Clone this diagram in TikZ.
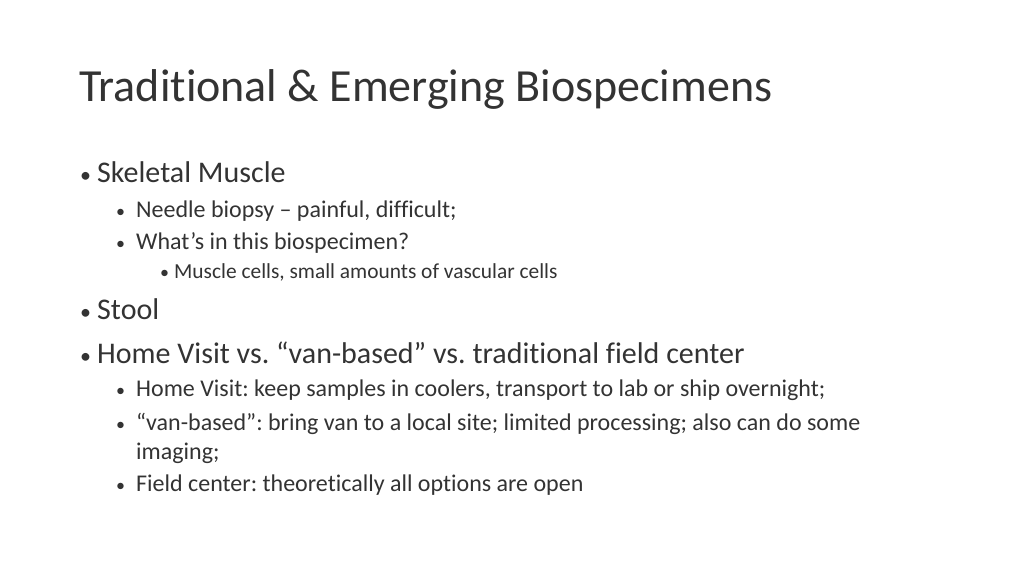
\documentclass[tikz,border=0pt]{standalone}
\usepackage{fontspec}
\setmainfont{Carlito}[Ligatures=NoCommon]
\begin{document}
\frenchspacing
\begin{tikzpicture}[x=1pt,y=1pt,
  every node/.style={anchor=base west,inner sep=0pt,text=black!80},
  title/.style={font=\fontsize{46}{52}\selectfont\frenchspacing},
  lone/.style={font=\fontsize{30}{34}\selectfont\frenchspacing},
  ltwo/.style={font=\fontsize{24}{28}\selectfont\frenchspacing},
  lthree/.style={font=\fontsize{21.4}{24}\selectfont\frenchspacing},
  dot/.style={font=\fontsize{22}{24}\selectfont},
  dots/.style={font=\fontsize{18}{22}\selectfont}]
\useasboundingbox[fill=white] (0,0) rectangle (1024,576);
\node[title] (t) at (79,474) {Traditional \& Emerging Biospecimens};
\node[dot] (d1) at (80,393) {•}; \node[lone] (b1) at (97,393) {Skeletal Muscle};
\node[dots] (d2) at (116,358) {•}; \node[ltwo] (b2) at (136,358) {Needle biopsy – painful, difficult;};
\node[dots] (d3) at (116,326) {•}; \node[ltwo] (b3) at (136,326) {What’s in this biospecimen?};
\node[dots] (d4) at (160,297) {•}; \node[lthree] (b4) at (174,297) {Muscle cells, small amounts of vascular cells};
\node[dot] (d5) at (80,256) {•}; \node[lone] (b5) at (97,256) {Stool};
\node[dot] (d6) at (80,213) {•}; \node[lone] (b6) at (97,213) {Home Visit vs. “van-based” vs. traditional field center};
\node[dots] (d7) at (116,180) {•}; \node[ltwo] (b7) at (136,180) {Home Visit: keep samples in coolers, transport to lab or ship overnight;};
\node[dots] (d8) at (116,146) {•}; \node[ltwo] (b8) at (136,146) {“van-based”: bring van to a local site; limited processing; also can do some};
\node[ltwo] (b9) at (136,117) {imaging;};
\node[dots] (d10) at (116,85) {•}; \node[ltwo] (b10) at (136,85) {Field center: theoretically all options are open};
\end{tikzpicture}
\end{document}
